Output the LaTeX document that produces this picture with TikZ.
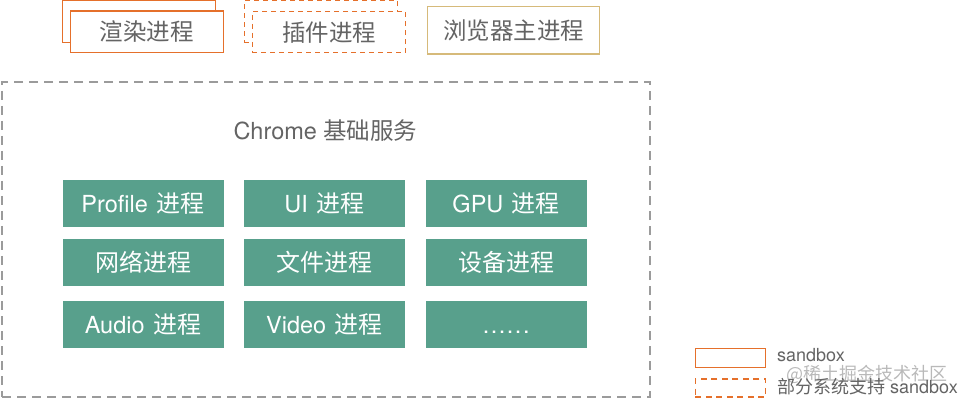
\documentclass[tikz,border=0pt]{standalone}
\usepackage{fontspec}
\setmainfont{TeX Gyre Heros}
\newfontfamily\zh{Noto Sans CJK SC}
\newcommand{\zhb}[1]{{\fontsize{24}{24}\selectfont\zh #1}}
\definecolor{sbOrange}{RGB}{229,112,43}
\definecolor{sbGold}{RGB}{214,186,122}
\definecolor{svcGreen}{RGB}{88,160,140}
\definecolor{txtGray}{RGB}{100,100,100}
\definecolor{lineGray}{RGB}{155,155,155}
\definecolor{wmGray}{RGB}{185,185,185}
\begin{document}
\begin{tikzpicture}[x=1pt,y=-1pt,
  svc/.style={fill=svcGreen, draw=none, minimum width=161pt, minimum height=46.7pt, inner sep=0pt, text=white, font=\fontsize{23.5}{23.5}\selectfont},
  procbox/.style={line width=1.5pt, inner sep=0pt, text=txtGray, font=\fontsize{23.5}{23.5}\selectfont\zh},
  sbsolid/.style={procbox, draw=sbOrange},
  sbdashed/.style={procbox, draw=sbOrange, dash pattern=on 5pt off 4pt},
  legtext/.style={inner sep=0pt, anchor=west, text=txtGray, font=\fontsize{18}{18}\selectfont}
]
\useasboundingbox (0,0) rectangle (962,401);
% top process boxes
\node[sbsolid, minimum width=153pt, minimum height=41.6pt] (rback) at (138.8,21.5) {};
\node[sbsolid, fill=white, minimum width=153pt, minimum height=41.7pt] (render) at (146.8,31.9) {渲染进程};
\node[sbdashed, minimum width=153pt, minimum height=41.6pt] (pback) at (320.8,21.5) {};
\node[sbdashed, fill=white, minimum width=153.4pt, minimum height=41pt] (plugin) at (329,32.2) {插件进程};
\node[procbox, draw=sbGold, minimum width=171.6pt, minimum height=47.3pt] (browser) at (513.5,30.4) {浏览器主进程};
% chrome services frame
\node[draw=lineGray, line width=2pt, dash pattern=on 9pt off 6pt, minimum width=648pt, minimum height=315pt, inner sep=0pt] (frame) at (326,239.5) {};
\node[inner sep=0pt, text=txtGray, font=\fontsize{23.5}{23.5}\selectfont] (title) at (325.5,131) {Chrome {\zh 基础服务}};
% service boxes
\node[svc] (profile) at (143,203.3) {Profile\kern2pt\ \zhb{进程}};
\node[svc] (ui) at (324.5,203.3) {UI\kern2pt\ \zhb{进程}};
\node[svc] (gpu) at (506.2,203.3) {GPU\kern2pt\ \zhb{进程}};
\node[svc] (net) at (143,262.3) {\zhb{网络进程}};
\node[svc] (file) at (324.5,262.3) {\zhb{文件进程}};
\node[svc] (device) at (506.2,262.3) {\zhb{设备进程}};
\node[svc] (audio) at (143,324.3) {Audio\kern2pt\ \zhb{进程}};
\node[svc] (video) at (324.5,324.3) {Video\kern2pt\ \zhb{进程}};
\node[svc] (more) at (506.2,324.3) {\zhb{\vphantom{进程}}.\kern1.5pt.\kern1.5pt.\kern1.5pt.\kern1.5pt.\kern1.5pt.};
% legend
\node[draw=sbOrange, line width=1.5pt, minimum width=70.4pt, minimum height=19pt, inner sep=0pt] (legsolid) at (730.5,357.8) {};
\node[draw=sbOrange, line width=1.5pt, dash pattern=on 6pt off 4.5pt, minimum width=70.4pt, minimum height=17.7pt, inner sep=0pt] (legdash) at (730.5,387.9) {};
\node[legtext] (legsolidtxt) at (777,355) {sandbox};
\node[legtext, text=wmGray, font=\fontsize{18}{18}\selectfont\zh] (watermark) at (786,374) {@稀土掘金技术社区};
\node[legtext] (legdashtxt) at (777,387) {{\zh 部分系统支持} sandbox};
\end{tikzpicture}
\end{document}
